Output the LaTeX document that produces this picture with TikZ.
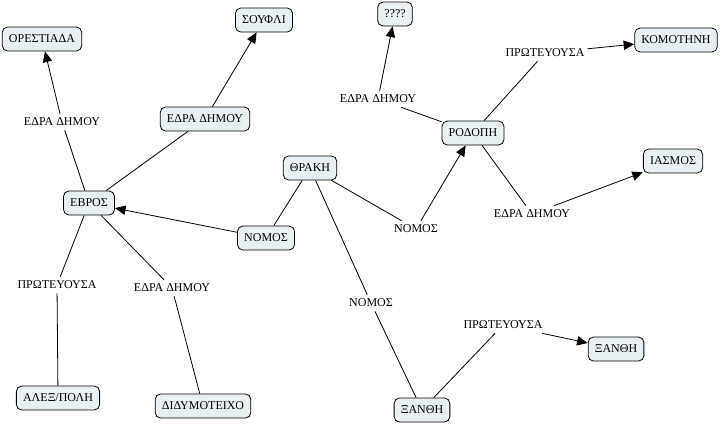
\documentclass[tikz,border=0pt]{standalone}
\usepackage{fontspec}
\setmainfont{Liberation Serif}
\usetikzlibrary{arrows.meta}
\definecolor{boxfill}{RGB}{233,240,243}
\begin{document}
\begin{tikzpicture}[x=0.75pt,y=-0.75pt,
 concept/.style={draw, rounded corners=4pt, fill=boxfill, font=\fontsize{9}{11}\selectfont, inner xsep=5pt, minimum height=18pt, line width=0.6pt},
 lbl/.style={font=\fontsize{9}{11}\selectfont, inner xsep=2pt, inner ysep=3pt},
 link/.style={line width=0.6pt},
 arr/.style={link, -{Triangle[length=8pt,width=7pt]}}]
\useasboundingbox (0,0) rectangle (721,426);
% concepts
\node[concept] (orest) at (42,39) {ΟΡΕΣΤΙΑΔΑ};
\node[concept] (soufli) at (264,20) {ΣΟΥΦΛΙ};
\node[concept] (edrabox) at (205,119) {ΕΔΡΑ ΔΗΜΟΥ};
\node[concept] (evros) at (89,203) {ΕΒΡΟΣ};
\node[concept] (nomosbox) at (266,238) {ΝΟΜΟΣ};
\node[concept] (thraki) at (310,168) {ΘΡΑΚΗ};
\node[concept] (qq) at (395,14) {????};
\node[concept] (rodopi) at (473,133) {ΡΟΔΟΠΗ};
\node[concept] (komot) at (676,40) {ΚΟΜΟΤΗΝΗ};
\node[concept] (iasmos) at (673,161) {ΙΑΣΜΟΣ};
\node[concept] (alex) at (58,398) {ΑΛΕΞ/ΠΟΛΗ};
\node[concept] (didym) at (203,406) {ΔΙΔΥΜΟΤΕΙΧΟ};
\node[concept] (xanthi) at (422,410) {ΞΑΝΘΗ};
\node[concept] (xanthi2) at (616,349) {ΞΑΝΘΗ};
% link labels
\node[lbl] (l1) at (62,122) {ΕΔΡΑ ΔΗΜΟΥ};
\node[lbl] (l2) at (57,285) {ΠΡΩΤΕΥΟΥΣΑ};
\node[lbl] (l3) at (172,288) {ΕΔΡΑ ΔΗΜΟΥ};
\node[lbl] (l4) at (378,99) {ΕΔΡΑ ΔΗΜΟΥ};
\node[lbl] (l5) at (545,53) {ΠΡΩΤΕΥΟΥΣΑ};
\node[lbl] (l6) at (532,214) {ΕΔΡΑ ΔΗΜΟΥ};
\node[lbl] (l7) at (416,229) {ΝΟΜΟΣ};
\node[lbl] (l8) at (371,303) {ΝΟΜΟΣ};
\node[lbl] (l9) at (503,325) {ΠΡΩΤΕΥΟΥΣΑ};
% connectors
\draw[link] (evros) -- (l1);
\draw[arr] (l1) -- (orest);
\draw[link] (evros) -- (edrabox);
\draw[arr] (edrabox) -- (soufli);
\draw[link] (evros) -- (l2);
\draw[link] (l2) -- (alex);
\draw[link] (evros) -- (l3);
\draw[link] (l3) -- (didym);
\draw[link] (thraki) -- (nomosbox);
\draw[arr] (nomosbox) -- (evros);
\draw[link] (thraki) -- (l7);
\draw[arr] (l7) -- (rodopi);
\draw[link] (thraki) -- (l8);
\draw[link] (l8) -- (xanthi);
\draw[link] (rodopi) -- (l4);
\draw[arr] (l4) -- (qq);
\draw[link] (rodopi) -- (l5);
\draw[arr] (l5) -- (komot);
\draw[link] (rodopi) -- (l6);
\draw[arr] (l6) -- (iasmos);
\draw[link] (xanthi) -- (l9);
\draw[arr] (l9) -- (xanthi2);
\end{tikzpicture}
\end{document}
